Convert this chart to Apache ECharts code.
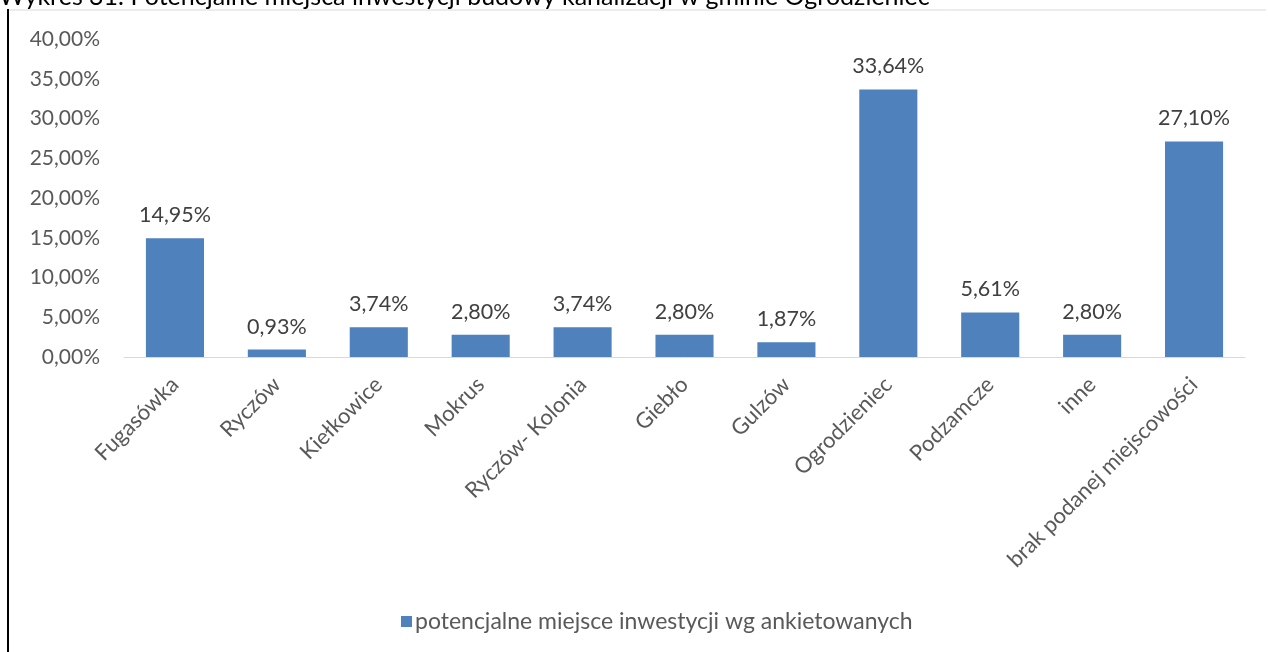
<!DOCTYPE html>
<html><head><meta charset="utf-8">
<script src="https://cdn.jsdelivr.net/npm/echarts@6/dist/echarts.min.js"></script>
<style>html,body{margin:0;padding:0;background:#fff}#c{width:1268px;height:652px}</style>
</head><body><div id="c"></div>
<script>
const categories = ['Fugasówka','Ryczów','Kiełkowice','Mokrus','Ryczów- Kolonia','Giebło','Gulzów','Ogrodzieniec','Podzamcze','inne','brak podanej miejscowości'];
const values = [14.95, 0.93, 3.74, 2.80, 3.74, 2.80, 1.87, 33.64, 5.61, 2.80, 27.10];
const seriesName = 'potencjalne miejsce inwestycji wg ankietowanych';
const titleText = 'Wykres 31. Potencjalne miejsca inwestycji budowy kanalizacji w gminie Ogrodzieniec';
const fmt = v => v.toFixed(2).replace('.', ',') + '%';
const FONT = 'Lato, "Open Sans", sans-serif';
const chart = echarts.init(document.getElementById('c'));
chart.setOption({
  animation: false,
  textStyle: {fontFamily: FONT},
  graphic: [
    {type:'text', x: -1, y: 9, style:{text: titleText, font: '25px ' + FONT, fill:'#000', verticalAlign:'bottom'}},
    {type:'line', shape:{x1:9, y1:10, x2:1266, y2:10}, style:{stroke:'#d9d9d9', lineWidth:1}},
    {type:'line', shape:{x1:8, y1:9, x2:8, y2:652}, style:{stroke:'#000', lineWidth:2}}
  ],
  legend: {
    top: 605, left: 396, itemWidth: 11, itemHeight: 11, icon: 'rect', itemGap: 4,
    textStyle: {color:'#595959', fontSize: 23, fontFamily: FONT, padding:[0,0,0,-2]},
    data: [seriesName]
  },
  grid: {left: 124, right: 23, top: 39, bottom: 295, containLabel: false},
  xAxis: {
    type: 'category', data: categories,
    axisLine: {lineStyle: {color:'#d9d9d9', width: 1}},
    axisTick: {show: false},
    axisLabel: {rotate: 45, interval: 0, color:'#595959', fontSize: 22, margin: 24, fontFamily: FONT}
  },
  yAxis: {
    type: 'value', min: 0, max: 40, interval: 5,
    axisLine: {show: false}, axisTick: {show: false},
    splitLine: {show: false},
    axisLabel: {formatter: v => fmt(v), color:'#595959', fontSize: 21, margin: 24, fontFamily: FONT}
  },
  series: [{
    name: seriesName, type: 'bar', data: values, barWidth: '57%',
    itemStyle: {color: '#4f81bd'},
    label: {show: true, position: 'top', distance: 12, formatter: p => fmt(p.value), color:'#404040', fontSize: 21.5, fontFamily: FONT}
  }]
});
</script></body></html>
